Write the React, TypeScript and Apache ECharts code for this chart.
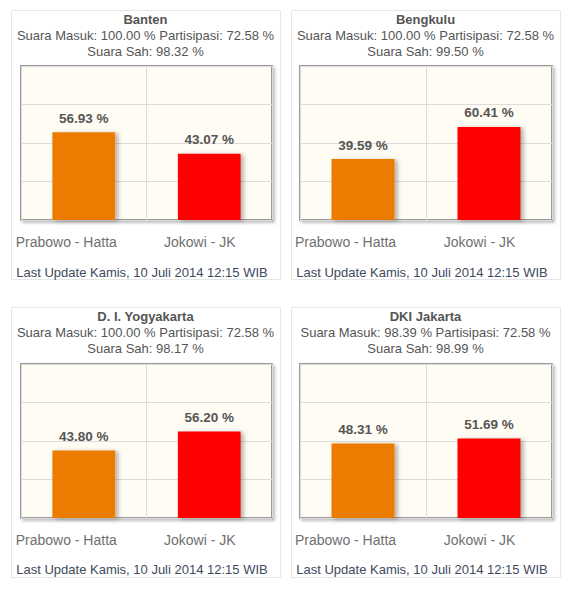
import React, { useEffect, useRef } from 'react';
import * as echarts from 'echarts';

const candidates = ['Prabowo - Hatta', 'Jokowi - JK'];
const provinces = ['Banten', 'Bengkulu', 'D. I. Yogyakarta', 'DKI Jakarta'];
const prabowoShare = [56.93, 39.59, 43.8, 48.31];
const jokowiShare = [43.07, 60.41, 56.2, 51.69];
const suaraMasuk = ['100.00', '100.00', '100.00', '98.39'];
const partisipasi = ['72.58', '72.58', '72.58', '72.58'];
const suaraSah = ['98.32', '99.50', '98.17', '98.99'];
const lastUpdate = 'Last Update Kamis, 10 Juli 2014 12:15 WIB';
const barColors = ['#EC7C00', '#FF0000'];

const FONT = '"Liberation Sans", Arial, sans-serif';

// panel layout (page coordinates)
const panels = [
  { bx: 11, by: 10, bw: 269, bh: 269, gx: 21, gy: 66, gw: 251, gh: 154 },
  { bx: 291, by: 10, bw: 269, bh: 269, gx: 300, gy: 66, gw: 252, gh: 154 },
  { bx: 11, by: 307, bw: 269, bh: 270, gx: 21, gy: 364, gw: 251, gh: 154 },
  { bx: 291, by: 307, bw: 269, bh: 270, gx: 300, gy: 364, gw: 252, gh: 154 },
];

export default function App() {
  const ref = useRef<HTMLDivElement>(null);
  useEffect(() => {
    if (!ref.current) return;
    const chart = echarts.init(ref.current, undefined, { renderer: 'svg' });

    const graphics: any[] = [];
    panels.forEach((p, i) => {
      const cx = p.bx + p.bw / 2;
      graphics.push({
        type: 'rect',
        z: -10,
        shape: { x: p.bx + 0.5, y: p.by + 0.5, width: p.bw, height: p.bh },
        style: { fill: '#fff', stroke: '#e6e6e6', lineWidth: 1 },
      });
      graphics.push({
        type: 'text',
        x: cx,
        y: p.by + 9,
        style: {
          text: provinces[i],
          font: `bold 13px ${FONT}`,
          fill: '#555',
          align: 'center',
          verticalAlign: 'middle',
        },
      });
      graphics.push({
        type: 'text',
        x: cx,
        y: p.by + 25,
        style: {
          text: `Suara Masuk: ${suaraMasuk[i]} % Partisipasi: ${partisipasi[i]} %`,
          font: `13px ${FONT}`,
          fill: '#555',
          align: 'center',
          verticalAlign: 'middle',
        },
      });
      graphics.push({
        type: 'text',
        x: cx,
        y: p.by + 41,
        style: {
          text: `Suara Sah: ${suaraSah[i]} %`,
          font: `13px ${FONT}`,
          fill: '#555',
          align: 'center',
          verticalAlign: 'middle',
        },
      });
      graphics.push({
        type: 'text',
        x: cx - 3.5,
        y: p.by + 262,
        style: {
          text: lastUpdate,
          font: `13px ${FONT}`,
          fill: '#3d4a5c',
          align: 'center',
          verticalAlign: 'middle',
        },
      });
    });

    const option: any = {
      animation: false,
      backgroundColor: '#fff',
      textStyle: { fontFamily: FONT },
      graphic: graphics,
      grid: panels.map((p) => ({
        left: p.gx,
        top: p.gy,
        width: p.gw,
        height: p.gh,
        show: true,
        backgroundColor: '#FFFCF4',
        borderColor: '#9a9a9a',
        borderWidth: 2,
        shadowColor: 'rgba(0,0,0,0.25)',
        shadowBlur: 3,
        shadowOffsetX: 2,
        shadowOffsetY: 2,
        containLabel: false,
      })),
      xAxis: panels.map((_, i) => ({
        type: 'category',
        gridIndex: i,
        data: candidates,
        axisLine: { show: false },
        axisTick: { show: false },
        splitLine: { show: true, lineStyle: { color: '#dcdcdc', width: 1 } },
        axisLabel: {
          interval: 0,
          hideOverlap: false,
          margin: 15,
          formatter: (v: string, idx: number) => (idx === 0 ? `{a|${v}}` : `{b|${v}}`),
          rich: {
            a: { fontSize: 14, color: '#707070', fontFamily: FONT, padding: [0, 35, 0, 0] },
            b: { fontSize: 14, color: '#707070', fontFamily: FONT, padding: [0, 19, 0, 0] },
          },
        },
      })),
      yAxis: panels.map((_, i) => ({
        type: 'value',
        gridIndex: i,
        min: 0,
        max: 100,
        interval: 25,
        axisLine: { show: false },
        axisTick: { show: false },
        axisLabel: { show: false },
        splitLine: { show: true, lineStyle: { color: '#dcdcdc', width: 1 } },
      })),
      series: panels.map((_, i) => ({
        type: 'bar',
        xAxisIndex: i,
        yAxisIndex: i,
        barWidth: '50%',
        data: [prabowoShare[i], jokowiShare[i]].map((v, k) => ({
          value: v,
          itemStyle: {
            color: barColors[k],
            shadowColor: 'rgba(0,0,0,0.3)',
            shadowBlur: 4,
            shadowOffsetX: 3,
            shadowOffsetY: 1,
          },
        })),
        label: {
          show: true,
          position: 'top',
          distance: 7,
          formatter: (prm: any) => `${prm.value.toFixed(2)} %`,
          fontFamily: FONT,
          fontSize: 13.5,
          fontWeight: 'bold',
          color: '#555',
        },
      })),
    };
    chart.setOption(option);
    return () => chart.dispose();
  }, []);
  return (
    <div
      ref={ref}
      style={{ position: 'absolute', left: 0, top: 0, width: 579, height: 599 }}
    />
  );
}
